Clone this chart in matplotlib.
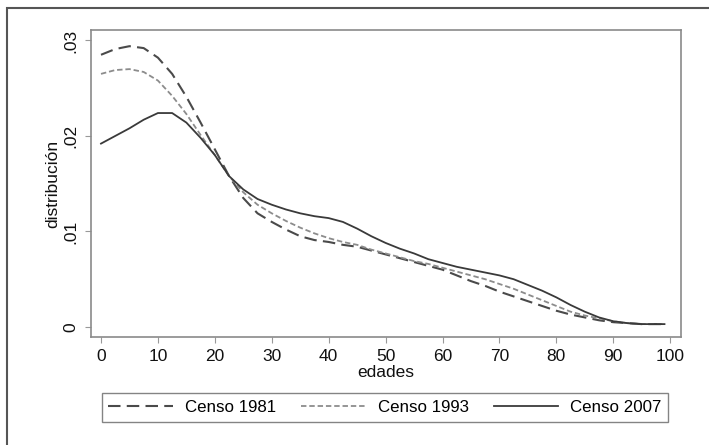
import matplotlib
matplotlib.use("Agg")
import matplotlib.pyplot as plt
from matplotlib.patches import Rectangle

plt.rcParams["font.family"] = ["Liberation Sans", "DejaVu Sans"]

# ages (edades)
ages = [0, 2.5, 5, 7.5, 10, 12.5, 15, 17.5, 20, 22.5, 25, 27.5, 30, 32.5, 35,
        37.5, 40, 42.5, 45, 47.5, 50, 52.5, 55, 57.5, 60, 62.5, 65, 67.5, 70,
        72.5, 75, 77.5, 80, 82.5, 85, 87.5, 90, 92.5, 95, 97.5, 99]

censo_1981 = [0.0285, 0.0291, 0.0294, 0.0292, 0.0282, 0.0265, 0.0241, 0.0214,
              0.0186, 0.0158, 0.0135, 0.0119, 0.0110, 0.0102, 0.0095, 0.0091,
              0.0089, 0.0086, 0.0084, 0.0080, 0.0076, 0.0072, 0.0068, 0.0064,
              0.0060, 0.0054, 0.0048, 0.0043, 0.0037, 0.0032, 0.0027, 0.0022,
              0.0017, 0.0013, 0.0010, 0.0007, 0.0005, 0.0004, 0.0003, 0.0003,
              0.0003]

censo_1993 = [0.0265, 0.0269, 0.0270, 0.0267, 0.0258, 0.0242, 0.0223, 0.0201,
              0.0180, 0.0158, 0.0141, 0.0128, 0.0119, 0.0111, 0.0104, 0.0098,
              0.0093, 0.0089, 0.0086, 0.0081, 0.0077, 0.0073, 0.0069, 0.0066,
              0.0062, 0.0058, 0.0054, 0.0050, 0.0045, 0.0040, 0.0034, 0.0028,
              0.0022, 0.0016, 0.0012, 0.0009, 0.0006, 0.0004, 0.0003, 0.0003,
              0.0003]

censo_2007 = [0.0192, 0.0200, 0.0208, 0.0217, 0.0224, 0.0224, 0.0214, 0.0198,
              0.0180, 0.0158, 0.0144, 0.0134, 0.0128, 0.0123, 0.0119, 0.0116,
              0.0114, 0.0110, 0.0103, 0.0095, 0.0088, 0.0082, 0.0077, 0.0071,
              0.0067, 0.0063, 0.0060, 0.0057, 0.0054, 0.0050, 0.0044, 0.0038,
              0.0031, 0.0023, 0.0016, 0.0010, 0.0006, 0.0004, 0.0003, 0.0003,
              0.0003]

x_ticks = [0, 10, 20, 30, 40, 50, 60, 70, 80, 90, 100]
y_ticks = [0, 0.01, 0.02, 0.03]
y_tick_labels = ["0", ".01", ".02", ".03"]

fig = plt.figure(figsize=(7.09, 4.45), dpi=100)
ax = fig.add_axes([0.128, 0.2427, 0.8325, 0.69])

ax.plot(ages, censo_1981, color="#4a4a4a", linewidth=1.5,
        dashes=(6, 3), label="Censo 1981")
ax.plot(ages, censo_1993, color="#8c8c8c", linewidth=1.3,
        dashes=(3, 1.6), label="Censo 1993")
ax.plot(ages, censo_2007, color="#3a3a3a", linewidth=1.3,
        label="Censo 2007")

ax.set_xlim(-1.8, 101.9)
ax.set_ylim(-0.00105, 0.0311)
ax.set_xticks(x_ticks)
ax.set_yticks(y_ticks)
ax.set_yticklabels(y_tick_labels, rotation=90, va="center")

ax.tick_params(direction="out", length=4, width=0.8, color="#999999",
               labelsize=12.5, pad=5, labelcolor="#111111")
for s in ax.spines.values():
    s.set_color("#8a8a8a")
    s.set_linewidth(1.2)

ax.set_xlabel("edades", fontsize=12.5, labelpad=0.5, color="#111111")
ax.set_ylabel("distribución", fontsize=12.5, labelpad=2, color="#111111")

fig.legend(loc="center", bbox_to_anchor=(385 / 709, 1 - 407.5 / 445),
           ncol=3, frameon=True, fancybox=False, fontsize=12.2,
           handlelength=3.8, handletextpad=0.7, columnspacing=1.5,
           borderpad=0.4, edgecolor="#666666")
leg = fig.legends[0]
leg.get_frame().set_linewidth(1.0)

# outer frame (extends past the right and bottom edges)
fig.patches.append(Rectangle((7 / 709, -0.2), 1.2, 1.2 - 7.5 / 445,
                             transform=fig.transFigure, fill=False,
                             edgecolor="#555555", linewidth=1.5))

fig.savefig("out.png", dpi=100)
